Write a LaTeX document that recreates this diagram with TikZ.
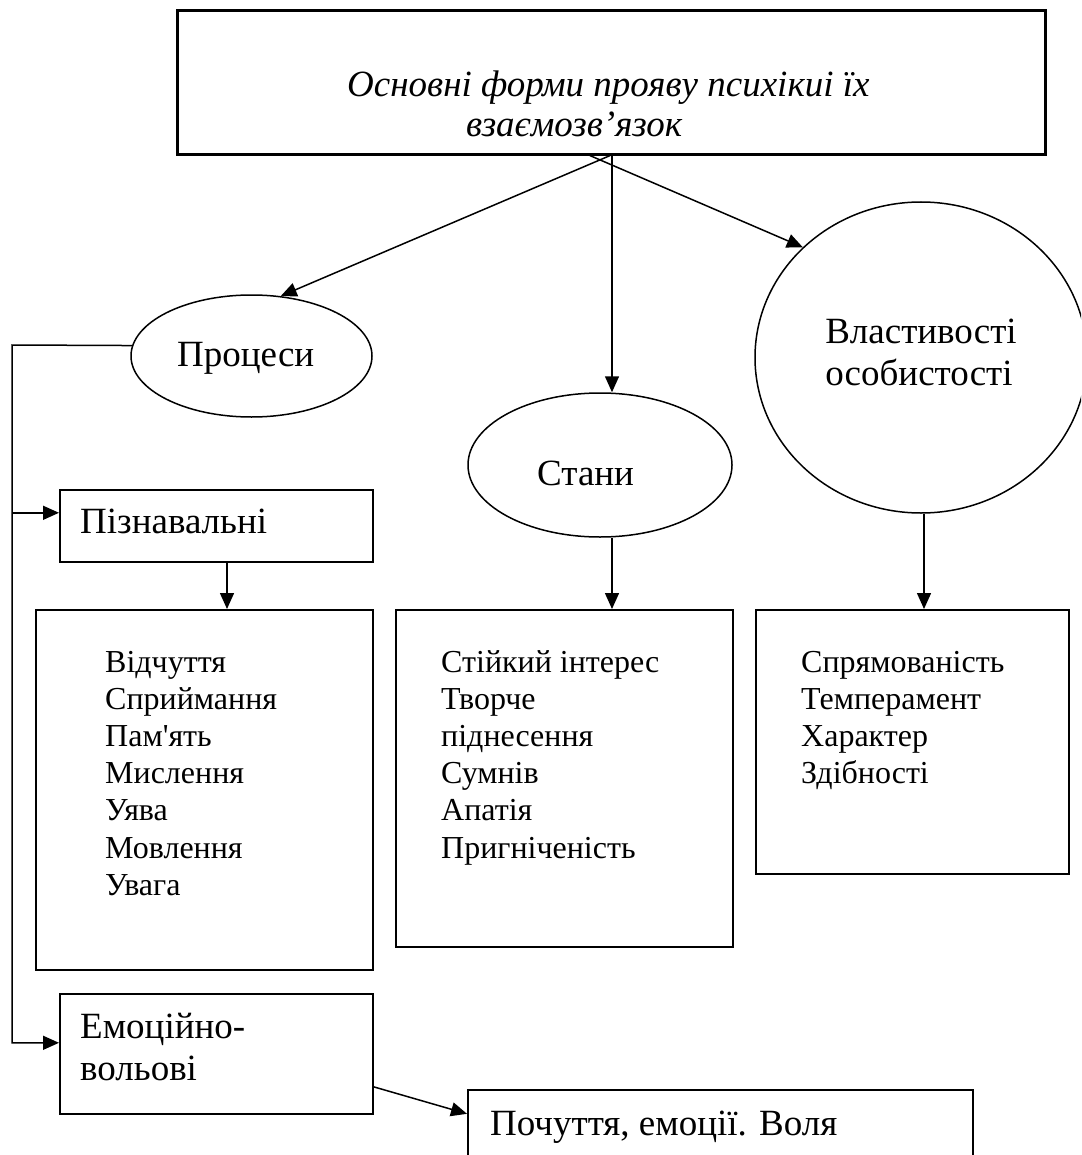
\documentclass[tikz,border=0pt]{standalone}
\usepackage{fontspec}
\setmainfont{Liberation Serif}
% same family without the TeX ligature mapping, for a straight apostrophe
\newfontfamily\rawserif{Liberation Serif}
\usetikzlibrary{shapes.geometric,arrows.meta,calc}

\tikzset{
  frame/.style={draw, line width=1.6pt, rectangle, inner sep=0pt, anchor=north west},
  oval/.style={draw, line width=1.5pt, ellipse, inner sep=0pt},
  conn/.style={line width=1.5pt},
  arr/.style={conn, -{Triangle[length=16pt,width=14pt]}},
  big/.style={inner sep=0pt, anchor=base west, font=\fontsize{37}{42.5}\selectfont},
  heading/.style={inner sep=0pt, anchor=base west, font=\fontsize{37}{43}\selectfont\itshape},
  small/.style={inner sep=0pt, anchor=base west, font=\fontsize{32}{37.2}\selectfont},
}

\begin{document}
\begin{tikzpicture}[x=1pt,y=-1pt]
\useasboundingbox (0,0) rectangle (1081,1155);
\clip (0,0) rectangle (1081,1155);

% title frame
\node[frame, line width=2.6pt, minimum width=868pt, minimum height=144pt] (title) at (176,9) {};
\node[heading] (t1) at (347,97) {Основні форми прояву психікиі їх};
\node[heading] (t2) at (466,137) {взаємозв’язок};

% the three forms
\node[oval, minimum width=241pt, minimum height=122pt] (proc) at (251.5,356) {};
\node[big] (proct) at (177,366) {Процеси};
\node[oval, minimum width=264pt, minimum height=144pt] (st) at (600,465) {};
\node[big] (stt) at (537,485) {Стани};
\node[oval, minimum width=332pt, minimum height=311pt] (vl) at (921,357.5) {};
\node[big, anchor=base] (vlt1) at (921,343) {Властивості};
\node[big, anchor=base] (vlt2) at (919,385) {особистості};

% boxes
\node[frame, minimum width=313pt, minimum height=72pt] (pz) at (59,489) {};
\node[big] (pzt) at (80,533) {Пізнавальні};
\node[frame, minimum width=337pt, minimum height=360pt] (b1) at (35,609) {};
\node[frame, minimum width=337pt, minimum height=337pt] (b2) at (395,609) {};
\node[frame, minimum width=313pt, minimum height=264pt] (b3) at (755,609) {};
\node[frame, minimum width=313pt, minimum height=120pt] (em) at (59,993) {};
\node[big] (emt1) at (80,1038) {Емоційно-};
\node[big] (emt2) at (80,1080) {вольові};
\node[frame, minimum width=505pt, minimum height=100pt] (pc) at (467,1089) {};
\node[big] (pct) at (490,1135) {Почуття, емоції. Воля};

% lists inside the boxes
\foreach \w [count=\i] in {Відчуття, Сприймання, {Пам{\rawserif'}ять}, Мислення, Уява, Мовлення, Увага}
  \node[small] (la\i) at (105, {672+37.2*(\i-1)}) {\w};
\foreach \w [count=\i] in {Стійкий інтерес, Творче, піднесення, Сумнів, Апатія, Пригніченість}
  \node[small] (lb\i) at (441, {672+37.2*(\i-1)}) {\w};
\foreach \w [count=\i] in {Спрямованість, Темперамент, Характер, Здібності}
  \node[small] (lc\i) at (801, {672+37.2*(\i-1)}) {\w};

% connectors
\coordinate (xa) at (610,0);
\coordinate (xb) at (590,0);
\coordinate (xv) at (612,0);
\coordinate (x1) at (227,0);
\coordinate (x3) at (924,0);
\coordinate (bend) at (12,345);
\coordinate (pzin) at ([yshift=13pt]pz.west);

\draw[arr] (title.south -| xa) -- (proc.64);
\draw[arr] (title.south -| xb) -- (vl.137);
\draw[arr] (title.south -| xv) -- (st.north -| xv);
\draw[arr] (st.south -| xv) -- (b2.north -| xv);
\draw[arr] (vl.south -| x3) -- (b3.north -| x3);
\draw[arr] (pz.south -| x1) -- (b1.north -| x1);
\draw[arr] (proc.175) -- (bend) |- ([yshift=11pt]em.west);
\draw[arr] (bend |- pzin) -- (pzin);
\draw[arr] ([yshift=-33pt]em.east) -- ([yshift=26pt]pc.west);
\end{tikzpicture}
\end{document}
